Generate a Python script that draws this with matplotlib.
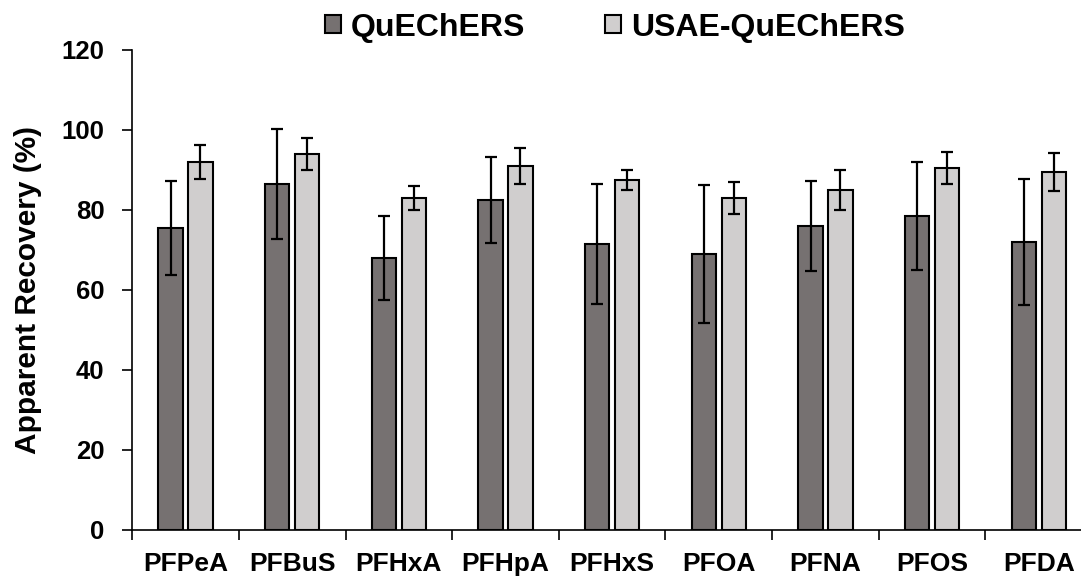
import matplotlib
matplotlib.use("Agg")
import matplotlib.pyplot as plt
import numpy as np

categories = ["PFPeA", "PFBuS", "PFHxA", "PFHpA", "PFHxS", "PFOA", "PFNA", "PFOS", "PFDA"]
quechers = [75.5, 86.5, 68.0, 82.5, 71.5, 69.0, 76.0, 78.5, 72.0]
quechers_err = [11.7, 13.8, 10.5, 10.8, 15.0, 17.2, 11.2, 13.5, 15.7]
usae = [92.0, 94.0, 83.0, 91.0, 87.5, 83.0, 85.0, 90.5, 89.5]
usae_err = [4.3, 4.0, 3.0, 4.5, 2.5, 4.0, 5.0, 4.0, 4.8]
series_names = ["QuEChERS", "USAE-QuEChERS"]
yticks = [0, 20, 40, 60, 80, 100, 120]

plt.rcParams['font.family'] = ['Liberation Sans', 'DejaVu Sans']
plt.rcParams['font.weight'] = 'bold'

fig = plt.figure(figsize=(10.81, 5.76), dpi=100)
ax = fig.add_axes([0.1223, 0.0799, 0.888, 0.8333])

x = np.arange(len(categories))
w = 0.229
off = 0.14
err_kw = dict(ecolor='black', elinewidth=1.6, capsize=4.3, capthick=1.6)
ax.bar(x - off, quechers, w, yerr=quechers_err, color='#767171', edgecolor='black',
       linewidth=1.5, error_kw=err_kw, label=series_names[0], zorder=2)
ax.bar(x + off, usae, w, yerr=usae_err, color='#D0CECE', edgecolor='black',
       linewidth=1.5, error_kw=err_kw, label=series_names[1], zorder=2)

ax.set_xlim(-0.5, len(categories) - 0.5)
ax.set_ylim(0, 120)
ax.set_yticks(yticks)
ax.set_yticklabels([str(t) for t in yticks])
ax.set_xticks(x)
ax.set_xticklabels(categories)
ax.set_xticks(np.arange(len(categories) + 1) - 0.5, minor=True)
ax.tick_params(axis='x', which='major', length=0, pad=16, labelsize=19)
ax.tick_params(axis='x', which='minor', length=7, width=1.2, direction='out')
ax.tick_params(axis='y', length=7, width=1.2, direction='out', pad=13, labelsize=18.5)
for lab in ax.get_xticklabels() + ax.get_yticklabels():
    lab.set_fontweight('bold')

for s in ['top', 'right']:
    ax.spines[s].set_visible(False)
for s in ['left', 'bottom']:
    ax.spines[s].set_linewidth(1.2)
    ax.spines[s].set_color('black')

ax.set_ylabel("Apparent Recovery (%)", fontsize=21.5, fontweight='bold')
ax.yaxis.set_label_coords(-0.094, 0.5)

leg = fig.legend(loc='center', bbox_to_anchor=(0.569, 0.952), ncol=2, frameon=False,
                 prop={'size': 23, 'weight': 'bold'}, handlelength=0.5, handleheight=0.5,
                 handletextpad=0.3, columnspacing=2.5)

fig.savefig("out.png", dpi=100)
